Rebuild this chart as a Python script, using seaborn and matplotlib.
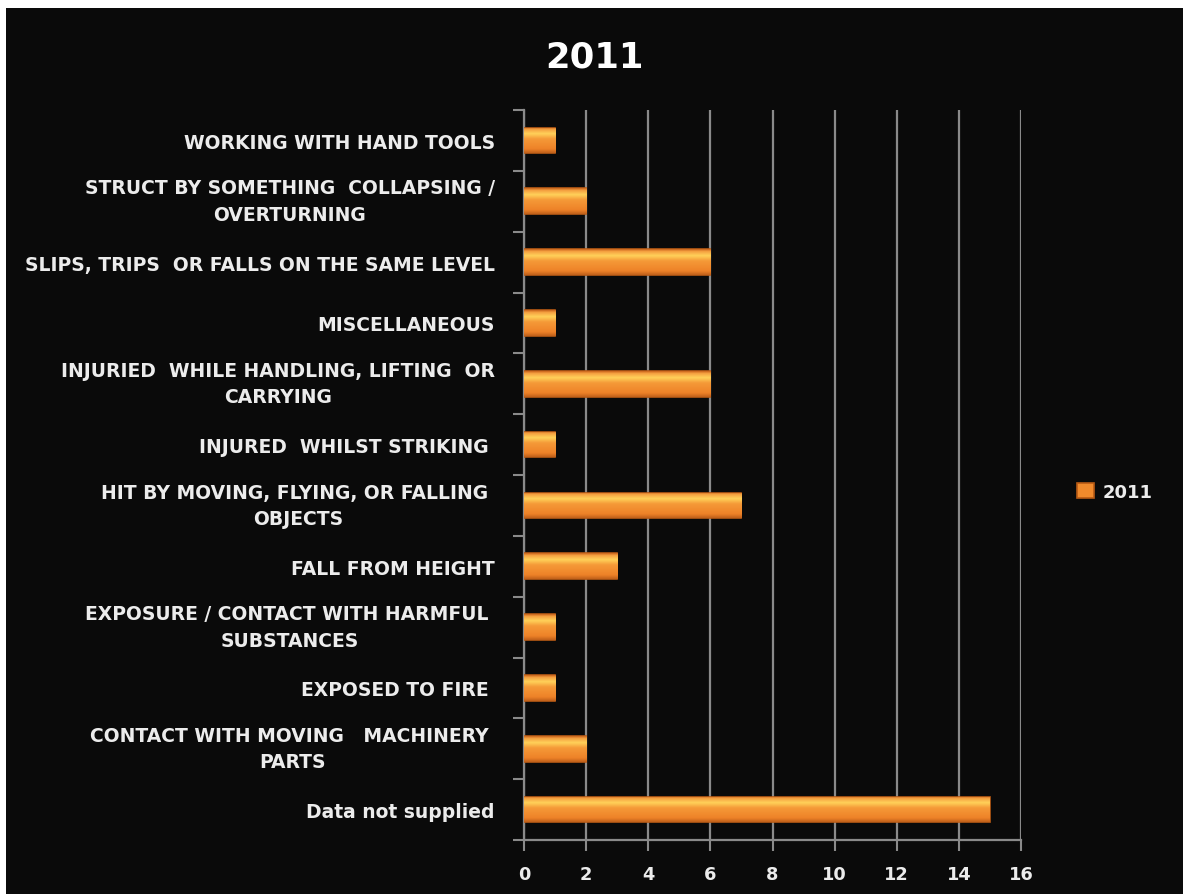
import matplotlib.pyplot as plt
import matplotlib.patches as mpatches
from matplotlib.colors import LinearSegmentedColormap
from matplotlib.ticker import FixedLocator
import seaborn as sns
import pandas as pd
import numpy as np

# datos del grafico
CAUSAS = [
    "WORKING WITH HAND TOOLS",
    "STRUCT BY SOMETHING  COLLAPSING /\nOVERTURNING",
    "SLIPS, TRIPS  OR FALLS ON THE SAME LEVEL",
    "MISCELLANEOUS",
    "INJURIED  WHILE HANDLING, LIFTING  OR\nCARRYING",
    "INJURED  WHILST STRIKING ",
    "HIT BY MOVING, FLYING, OR FALLING \nOBJECTS",
    "FALL FROM HEIGHT",
    "EXPOSURE / CONTACT WITH HARMFUL \nSUBSTANCES",
    "EXPOSED TO FIRE ",
    "CONTACT WITH MOVING   MACHINERY \nPARTS",
    "Data not supplied",
]
CASOS_2011 = [1, 2, 6, 1, 6, 1, 7, 3, 1, 1, 2, 15]
SERIE = "2011"
TICKS_X = [0, 2, 4, 6, 8, 10, 12, 14, 16]

NARANJA = "#f08a2c"
NARANJA_BORDE = "#b85a14"
FONDO = "#0a0a0a"
GRIS_GRID = "#8a8a8a"
TEXTO = "#ececec"

sns.set_theme(style="white")
plt.rcParams['font.family'] = ['DejaVu Sans']

df = pd.DataFrame({"causa": CAUSAS, "casos": CASOS_2011, "serie": SERIE})

figura = plt.figure(figsize=(11.83, 8.95), dpi=100)
figura.patch.set_facecolor("white")
# marco negro (deja el borde blanco arriba e izquierda como la captura)
figura.patches.append(mpatches.Rectangle((6 / 1183, 0), 1, 1 - 9 / 895,
                                         transform=figura.transFigure,
                                         facecolor=FONDO, edgecolor="none", zorder=-10))

ax = figura.add_axes([524 / 1183, 1 - 841 / 895, 497 / 1183, 730 / 895])
ax.set_facecolor(FONDO)

sns.barplot(data=df, x="casos", y="causa", hue="serie", palette=[NARANJA],
            saturation=1, orient="h", width=0.42, ax=ax,
            edgecolor=NARANJA_BORDE, linewidth=1.2, zorder=3)

# brillo vertical dentro de cada barra (efecto 3D del original)
degradado = LinearSegmentedColormap.from_list(
    "brillo", [(0.0, "#c8641c"), (0.08, "#f5a040"), (0.25, "#ffd25a"),
               (0.45, "#f59a38"), (0.85, "#ee8228"), (1.0, "#c0601a")])
gradiente = np.linspace(0, 1, 64).reshape(-1, 1)
for barra in list(ax.patches):
    x0, y0 = barra.get_x(), barra.get_y()
    ancho, alto = barra.get_width(), barra.get_height()
    # eje y invertido: y0 queda arriba
    img = ax.imshow(gradiente, cmap=degradado, aspect="auto", zorder=3.5,
                    extent=(x0, x0 + ancho, y0 + alto, y0), interpolation="bilinear")
    img.set_clip_path(barra)

ax.set_xlim(0, 16)
ax.set_ylim(len(CAUSAS) - 0.5, -0.5)
ax.set_xticks(TICKS_X)
ax.set_xticklabels([str(t) for t in TICKS_X], fontsize=12.8, fontweight="bold", color=TEXTO)
ax.tick_params(axis="x", length=8, width=1.5, color=GRIS_GRID, pad=10, direction="out", bottom=True)

ax.set_yticks(range(len(CAUSAS)))
ax.set_yticklabels(CAUSAS, fontsize=13.5, fontweight="bold", color=TEXTO,
                   multialignment="center", linespacing=1.5)
for etiqueta in ax.get_yticklabels():
    if "\n" in etiqueta.get_text():
        etiqueta.set_verticalalignment("center")
ax.tick_params(axis="y", length=0, pad=21)
ax.yaxis.set_minor_locator(FixedLocator([i - 0.5 for i in range(len(CAUSAS) + 1)]))
ax.tick_params(axis="y", which="minor", length=8, width=1.5, color=GRIS_GRID, left=True)

ax.grid(axis="x", color=GRIS_GRID, linewidth=1.6, zorder=0)
ax.grid(axis="y", visible=False)
ax.set_axisbelow(True)
ax.set_xlabel("")
ax.set_ylabel("")

for spine in ["top", "right"]:
    ax.spines[spine].set_visible(False)
for spine in ["left", "bottom"]:
    ax.spines[spine].set_color(GRIS_GRID)
    ax.spines[spine].set_linewidth(1.6)

figura.text(594 / 1183, 1 - 57 / 895, "2011", ha="center", va="center",
            fontsize=25.5, fontweight="bold", color="white")

leyenda = ax.legend(loc="center left", bbox_to_anchor=(1061 / 1183, 1 - 493 / 895),
                    bbox_transform=figura.transFigure, frameon=False,
                    handlelength=0.9, handleheight=0.9, handletextpad=0.5,
                    prop={"weight": "bold", "size": 13})
for t in leyenda.get_texts():
    t.set_color(TEXTO)

figura.savefig("out.png", dpi=100, facecolor=figura.get_facecolor())
plt.close(figura)
